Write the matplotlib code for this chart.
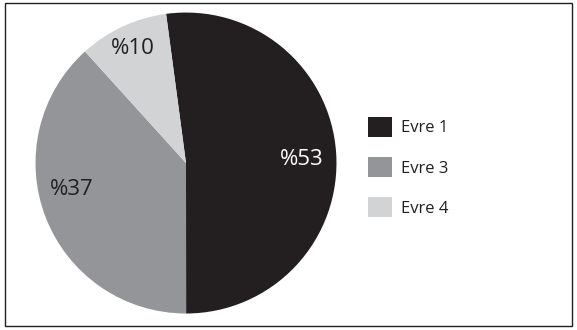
import matplotlib
matplotlib.use("Agg")
import numpy as np
import matplotlib.pyplot as plt
from matplotlib.patches import Rectangle

plt.rcParams['font.family'] = ['Open Sans', 'DejaVu Sans']

labels = ["Evre 1", "Evre 3", "Evre 4"]
values = [52.1, 38.3, 9.6]          # wedge sizes as drawn in the picture
pct_labels = ["%53", "%37", "%10"]  # printed labels
colors = ["#231f20", "#939598", "#d1d3d4"]
text_colors = ["white", "#231f20", "#231f20"]
# label placement (radius fraction, angle in degrees)
label_r = [0.77, 0.78, 0.84]
label_ang = [1.5, 193, 115]

fig = plt.figure(figsize=(5.77, 3.30), dpi=100)
fig.patch.set_facecolor("white")
fig.patches.append(Rectangle((5/577, 4/330), 567/577, 323/330, transform=fig.transFigure,
                             fill=False, edgecolor="#231f20", linewidth=1.0))

ax = fig.add_axes([0.0615, 0.05, 0.5217, 0.912])
wedges, _ = ax.pie(values, colors=colors, startangle=97.6, counterclock=False)
for s, c, r, a in zip(pct_labels, text_colors, label_r, label_ang):
    ax.text(r*np.cos(np.radians(a)), r*np.sin(np.radians(a)), s, color=c,
            fontsize=16, ha="center", va="center")
ax.set_xlim(-1, 1)
ax.set_ylim(-1, 1)
ax.set_aspect("equal")

leg = fig.legend(wedges, labels, loc="center left", bbox_to_anchor=(0.638, 0.494),
                 frameon=False, fontsize=12, handlelength=1.44, handleheight=1.44,
                 labelspacing=1.22, handletextpad=0.55, borderpad=0, borderaxespad=0)
for t in leg.get_texts():
    t.set_color("#231f20")

fig.savefig("out.png", dpi=100)
